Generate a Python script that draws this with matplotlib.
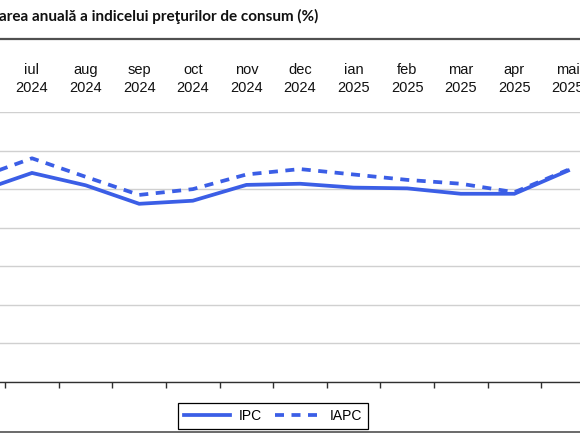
import matplotlib
matplotlib.use("Agg")
import matplotlib.pyplot as plt
from matplotlib.lines import Line2D

months = ["iun", "iul", "aug", "sep", "oct", "nov", "dec", "ian", "feb", "mar", "apr", "mai"]
years = ["2024", "2024", "2024", "2024", "2024", "2024", "2024", "2025", "2025", "2025", "2025", "2025"]
ipc = [4.94, 5.42, 5.10, 4.62, 4.70, 5.11, 5.14, 5.04, 5.02, 4.88, 4.88, 5.48]
iapc = [5.30, 5.80, 5.32, 4.85, 5.00, 5.38, 5.52, 5.38, 5.24, 5.14, 4.92, 5.50]
yticks = [0, 1, 2, 3, 4, 5, 6, 7]

W, H = 580, 440
fig = plt.figure(figsize=(W / 100, H / 100), dpi=100)
fig.patch.set_facecolor("white")

def fx(px):
    return px / W

def fy(py):
    return 1 - py / H

# axes placement (pixel coords from top-left)
x_left, x_right = -48.4, 594.8
y_top, y_bot = 112.0, 382.0
ax = fig.add_axes([fx(x_left), fy(y_bot), fx(x_right - x_left), (y_bot - y_top) / H])
ax.set_facecolor("none")

n = len(months)
xs = list(range(n))
blue = "#3b5ee6"
dash = (0, (2.4, 2.0))
ax.plot(xs, ipc, color=blue, lw=2.7, solid_joinstyle="miter", zorder=3)
ax.plot(xs, iapc, color=blue, lw=2.7, linestyle=dash, zorder=3)

ax.set_xlim(-0.5, n - 0.5)
ax.set_ylim(0, 7)
ax.set_yticks(yticks)
ax.yaxis.grid(True, color="#d0d0d0", lw=1.0)
ax.set_axisbelow(True)
ax.tick_params(axis="y", left=False, labelleft=False)
for s in ["left", "right", "top"]:
    ax.spines[s].set_visible(False)
ax.spines["bottom"].set_color("#303030")
ax.spines["bottom"].set_linewidth(1.0)
ax.set_xticks([i + 0.5 for i in range(-1, n)])
ax.set_xticklabels([])
ax.tick_params(axis="x", direction="out", length=4, width=1, color="#303030")

# category labels above plot (only those whose centre lies on the canvas)
for i, (m, y) in enumerate(zip(months, years)):
    xd = ax.transData.transform((i, 0))[0]
    if xd < 0:
        continue
    xf = xd / fig.bbox.width
    fig.text(xf, fy(70), m, ha="center", va="center", fontsize=10.5,
             family="Liberation Sans", color="#111111")
    fig.text(xf, fy(88), y, ha="center", va="center", fontsize=10.5,
             family="Liberation Sans", color="#111111")

# title
fig.text(fx(-1), fy(16), "area anuală a indicelui preţurilor de consum (%)",
         ha="left", va="center", fontsize=11, fontweight="bold",
         family="Lato", color="#111111")

# border lines
fig.add_artist(Line2D([0, 1], [fy(39), fy(39)], color="#505050", lw=1.6))
fig.add_artist(Line2D([0, 1], [fy(432), fy(432)], color="#505050", lw=1.2))

# legend
handles = [Line2D([0], [0], color=blue, lw=2.7),
           Line2D([0], [0], color=blue, lw=2.7, linestyle=dash)]
leg = fig.legend(handles, ["IPC", "IAPC"], loc="center",
                 bbox_to_anchor=(fx(273), fy(416)), ncol=2, frameon=True,
                 fancybox=False, edgecolor="black", framealpha=1,
                 prop={"family": "Liberation Sans", "size": 10},
                 handlelength=3.3, columnspacing=1.0, handletextpad=0.6,
                 borderpad=0.45)
leg.get_frame().set_linewidth(0.9)

fig.savefig("out.png", dpi=100, facecolor="white")
